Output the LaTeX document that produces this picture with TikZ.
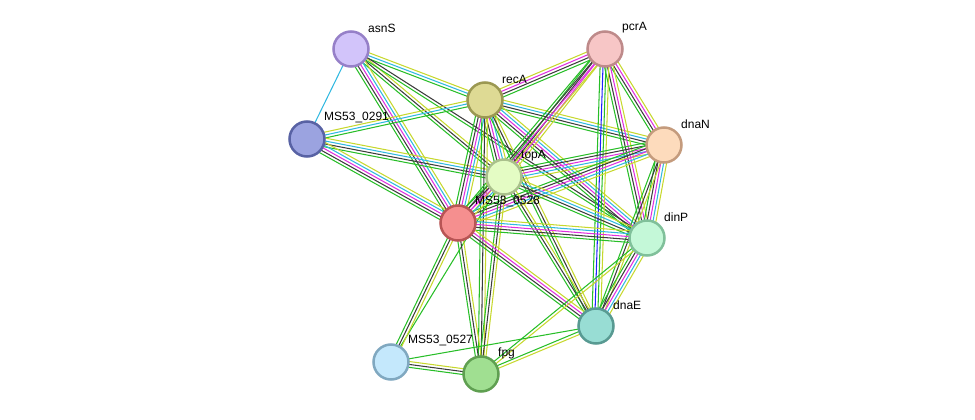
\documentclass[tikz,border=0pt]{standalone}
\usepackage{fontspec}
\setmainfont{Liberation Sans}
\usetikzlibrary{positioning,calc}
\pgfdeclarelayer{background}
\pgfsetlayers{background,main}

% evidence colours
\definecolor{cNb}{RGB}{40,190,40}
\definecolor{cTx}{RGB}{199,216,46}
\definecolor{cCo}{RGB}{60,60,60}
\definecolor{cEx}{RGB}{224,48,224}
\definecolor{cDb}{RGB}{48,184,224}
\definecolor{cOc}{RGB}{32,32,255}

% one bundle of parallel lines between two proteins
\newcommand{\bundle}[3]{%
  \foreach \col [count=\i] in {#3} {\xdef\nlines{\i}}
  \foreach \col [count=\i] in {#3} {
    \pgfmathsetmacro\off{(\i-(\nlines+1)/2)*2.9}
    \draw[line width=1.05pt,\col] ($(#1)!\off pt!90:(#2)$) -- ($(#2)!\off pt!-90:(#1)$);
  }}

\tikzset{
  prot/.style={circle,minimum size=35pt,inner sep=0pt,line width=2.5pt},
  lbl/.style={anchor=west,inner sep=0pt,font=\fontsize{12}{14}\selectfont}
}

\begin{document}
\begin{tikzpicture}[x=1pt,y=-1pt]
  \useasboundingbox (0,0) rectangle (975,420);
  % proteins
  \node[prot,fill={rgb,255:red,210;green,196;blue,250},draw={rgb,255:red,150;green,128;blue,200}] (asnS) at (351,49) {};
  \node[prot,fill={rgb,255:red,247;green,198;blue,198},draw={rgb,255:red,190;green,138;blue,138}] (pcrA) at (605,49) {};
  \node[prot,fill={rgb,255:red,222;green,218;blue,148},draw={rgb,255:red,155;green,152;blue,82}] (recA) at (485,100) {};
  \node[prot,fill={rgb,255:red,155;green,163;blue,224},draw={rgb,255:red,88;green,98;blue,164}] (m291) at (307,139) {};
  \node[prot,fill={rgb,255:red,253;green,219;blue,188},draw={rgb,255:red,196;green,155;blue,125}] (dnaN) at (664,145) {};
  \node[prot,fill={rgb,255:red,228;green,252;blue,196},draw={rgb,255:red,170;green,192;blue,140}] (topA) at (504,177) {};
  \node[prot,fill={rgb,255:red,245;green,143;blue,143},draw={rgb,255:red,184;green,85;blue,85}] (m528) at (458,223) {};
  \node[prot,fill={rgb,255:red,196;green,248;blue,216},draw={rgb,255:red,128;green,192;blue,154}] (dinP) at (647,238) {};
  \node[prot,fill={rgb,255:red,152;green,221;blue,212},draw={rgb,255:red,88;green,154;blue,146}] (dnaE) at (596,326) {};
  \node[prot,fill={rgb,255:red,196;green,232;blue,252},draw={rgb,255:red,128;green,168;blue,192}] (m527) at (391,362) {};
  \node[prot,fill={rgb,255:red,160;green,223;blue,145},draw={rgb,255:red,95;green,159;blue,81}] (fpg) at (481,374) {};
  % names
  \node[lbl] (tasnS) at ($(asnS)+(17,-21)$) {asnS};
  \node[lbl] (tpcrA) at ($(pcrA)+(17,-21)$) {pcrA};
  \node[lbl] (trecA) at ($(recA)+(17,-21)$) {recA};
  \node[lbl] (tm291) at ($(m291)+(17,-21)$) {MS53\_0291};
  \node[lbl] (tdnaN) at ($(dnaN)+(17,-21)$) {dnaN};
  \node[lbl] (ttopA) at ($(topA)+(17,-21)$) {topA};
  \node[lbl] (tm528) at ($(m528)+(17,-21)$) {MS53\_0528};
  \node[lbl] (tdinP) at ($(dinP)+(17,-21)$) {dinP};
  \node[lbl] (tdnaE) at ($(dnaE)+(17,-21)$) {dnaE};
  \node[lbl] (tm527) at ($(m527)+(17,-21)$) {MS53\_0527};
  \node[lbl] (tfpg) at ($(fpg)+(17,-21)$) {fpg};
  % interactions
  \begin{pgfonlayer}{background}
    \bundle{asnS}{m291}{cDb}
    \bundle{asnS}{recA}{cNb,cDb,cTx}
    \bundle{asnS}{topA}{cNb,cCo,cTx}
    \bundle{asnS}{m528}{cNb,cCo,cEx,cDb,cTx}
    \bundle{asnS}{dinP}{cNb,cCo}
    \bundle{m291}{recA}{cNb,cDb,cTx}
    \bundle{m291}{topA}{cNb,cCo,cDb,cTx}
    \bundle{m291}{m528}{cNb,cCo,cEx,cDb,cTx}
    \bundle{recA}{pcrA}{cNb,cCo,cEx,cTx}
    \bundle{recA}{dnaN}{cNb,cCo,cDb,cTx}
    \bundle{recA}{topA}{cNb,cCo,cEx,cDb,cTx}
    \bundle{recA}{m528}{cNb,cCo,cEx,cDb,cTx}
    \bundle{recA}{dinP}{cNb,cCo,cEx,cDb,cTx}
    \bundle{recA}{dnaE}{cNb,cCo,cTx}
    \bundle{recA}{fpg}{cNb,cCo,cTx}
    \bundle{pcrA}{topA}{cNb,cCo,cEx,cTx}
    \bundle{pcrA}{m528}{cNb,cCo,cEx,cTx}
    \bundle{pcrA}{dnaN}{cNb,cCo,cEx,cTx}
    \bundle{pcrA}{dinP}{cNb,cCo,cEx,cTx}
    \bundle{pcrA}{dnaE}{cNb,cOc,cNb,cTx}
    \bundle{dnaN}{topA}{cNb,cCo,cEx,cDb,cTx}
    \bundle{dnaN}{m528}{cNb,cCo,cEx,cDb,cTx}
    \bundle{dnaN}{dinP}{cNb,cCo,cEx,cDb,cTx}
    \bundle{dnaN}{dnaE}{cNb,cCo,cTx}
    \bundle{topA}{m528}{cNb,cCo,cEx,cDb,cTx}
    \bundle{topA}{dinP}{cNb,cCo,cDb,cTx}
    \bundle{topA}{dnaE}{cNb,cCo,cTx}
    \bundle{topA}{fpg}{cNb,cCo,cTx}
    \bundle{topA}{m527}{cNb}
    \bundle{m528}{dinP}{cNb,cCo,cEx,cDb,cTx}
    \bundle{m528}{dnaE}{cNb,cCo,cEx,cTx}
    \bundle{m528}{m527}{cNb,cCo,cTx}
    \bundle{m528}{fpg}{cNb,cCo,cTx}
    \bundle{dinP}{dnaE}{cNb,cCo,cEx,cDb,cTx}
    \bundle{dinP}{fpg}{cNb,cTx}
    \bundle{dnaE}{fpg}{cNb,cTx}
    \bundle{dnaE}{m527}{cNb}
    \bundle{m527}{fpg}{cNb,cCo,cTx}
  \end{pgfonlayer}
\end{tikzpicture}
\end{document}
